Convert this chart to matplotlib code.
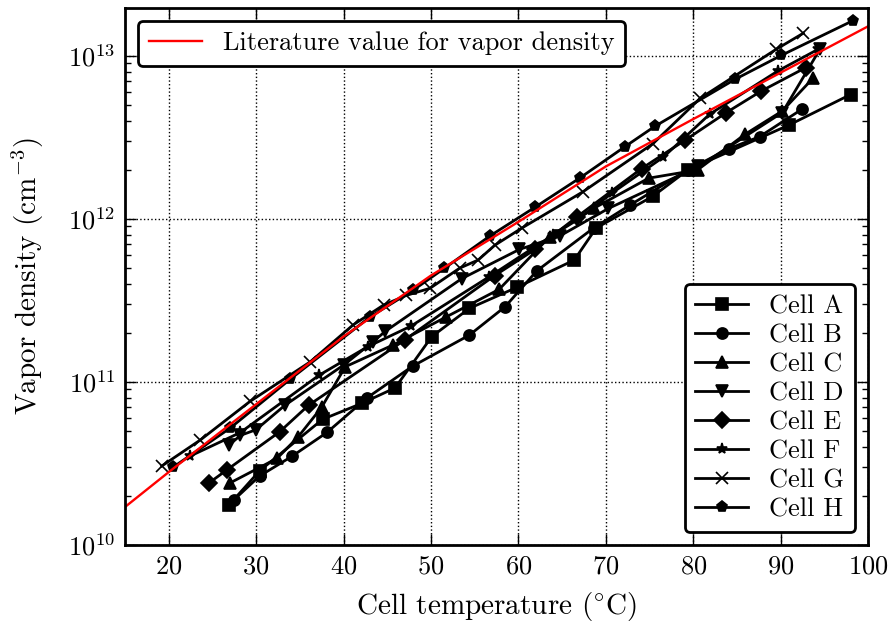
import numpy as np
import matplotlib
matplotlib.use('Agg')
import matplotlib.pyplot as plt

plt.rcParams['font.family'] = 'serif'
plt.rcParams['font.serif'] = ['cmr10']
plt.rcParams['mathtext.fontset'] = 'cm'
plt.rcParams['axes.formatter.use_mathtext'] = True
plt.rcParams['axes.unicode_minus'] = False

# literature curve
lit_t = [15, 20, 30, 40, 50, 60, 70, 80, 90, 100]
lit_n = [1.71e10, 2.8e10, 7.3e10, 1.9e11, 4.5e11, 9.6e11, 2.1e12, 4.1e12, 7.9e12, 1.52e13]

tA = [26.9, 30.4, 37.6, 42.1, 45.9, 50.1, 54.4, 59.8, 66.4, 68.9, 75.4, 79.4, 91.0, 98.0]
nA = [1.76e10, 2.85e10, 5.9e10, 7.4e10, 9.2e10, 1.9e11, 2.83e11, 3.8e11, 5.6e11, 8.8e11, 1.38e12, 2.0e12, 3.78e12, 5.8e12]

tB = [27.5, 30.4, 34.1, 38.1, 42.7, 47.9, 54.4, 58.5, 62.1, 68.6, 72.8, 79.4, 84.1, 87.6, 92.4]
nB = [1.9e10, 2.65e10, 3.5e10, 4.9e10, 8.0e10, 1.25e11, 1.94e11, 2.9e11, 4.8e11, 8.8e11, 1.22e12, 2.0e12, 2.7e12, 3.2e12, 4.7e12]

tC = [27.0, 32.4, 34.8, 37.5, 40.2, 45.7, 51.7, 57.8, 63.6, 68.6, 74.9, 80.5, 85.9, 90.2, 93.7]
nC = [2.4e10, 3.4e10, 4.6e10, 7.0e10, 1.24e11, 1.69e11, 2.5e11, 3.7e11, 7.8e11, 1.16e12, 1.78e12, 2.0e12, 3.3e12, 4.6e12, 7.3e12]

tD = [26.9, 28.2, 30.0, 33.3, 40.1, 43.4, 44.8, 53.5, 60.1, 64.8, 70.3, 80.6, 90.2, 94.5]
nD = [4.1e10, 4.7e10, 5.1e10, 7.2e10, 1.28e11, 1.77e11, 2.05e11, 4.3e11, 6.5e11, 7.9e11, 1.16e12, 2.1e12, 4.5e12, 1.1e13]

tE = [24.6, 26.7, 32.7, 36.0, 47.0, 57.3, 61.9, 66.7, 74.1, 79.1, 83.8, 87.8, 92.9]
nE = [2.4e10, 2.9e10, 4.95e10, 7.2e10, 1.81e11, 4.5e11, 6.5e11, 1.03e12, 2.04e12, 3.05e12, 4.5e12, 6.1e12, 8.5e12]

tF = [22.4, 28.2, 37.2, 42.8, 47.7, 56.6, 64.0, 66.9, 70.7, 76.6, 81.9, 89.7, 94.3]
nF = [3.5e10, 4.9e10, 1.1e11, 1.65e11, 2.2e11, 4.4e11, 8.0e11, 1.0e12, 1.44e12, 2.4e12, 4.4e12, 8.1e12, 1.1e13]

tG = [19.2, 23.6, 29.3, 36.2, 41.1, 44.6, 47.2, 49.9, 53.3, 55.4, 57.3, 60.4, 67.4, 75.4, 80.8, 89.5, 92.6]
nG = [3.05e10, 4.4e10, 7.6e10, 1.33e11, 2.24e11, 2.97e11, 3.4e11, 3.76e11, 5.0e11, 5.6e11, 6.9e11, 8.8e11, 1.47e12, 2.9e12, 5.5e12, 1.1e13, 1.38e13]

tH = [20.5, 27.0, 33.9, 43.0, 48.0, 51.5, 56.8, 61.9, 67.0, 72.2, 75.6, 84.8, 90.1, 98.3]
nH = [3.0e10, 5.2e10, 1.04e11, 2.5e11, 3.67e11, 4.97e11, 7.9e11, 1.18e12, 1.78e12, 2.78e12, 3.7e12, 7.2e12, 1.01e13, 1.65e13]

cells = [('Cell A', tA, nA, 's', 8),
         ('Cell B', tB, nB, 'o', 8),
         ('Cell C', tC, nC, '^', 8),
         ('Cell D', tD, nD, 'v', 8),
         ('Cell E', tE, nE, 'D', 8),
         ('Cell F', tF, nF, '*', 8),
         ('Cell G', tG, nG, 'x', 8),
         ('Cell H', tH, nH, 'p', 8)]

fig = plt.figure(figsize=(8.94, 6.26), dpi=100)
ax = fig.add_axes([0.1398, 0.1294, 0.8311, 0.8578])

handles = []
for name, t, n, m, ms in cells:
    h, = ax.plot(t, n, color='k', lw=2, marker=m, ms=ms, mew=1.2, label=name)
    handles.append(h)
lit, = ax.plot(lit_t, lit_n, color='r', lw=1.7, label='Literature value for vapor density')

ax.set_yscale('log')
ax.set_xlim(15, 100)
ax.set_ylim(1e10, 1.97e13)
ax.grid(True, which='major', color='k', linestyle=':', lw=1)
ax.tick_params(which='both', direction='in', top=True, right=True, labelsize=19, pad=7)
ax.tick_params(which='major', length=8, width=1)
ax.tick_params(which='minor', length=4, width=1)
for s in ax.spines.values():
    s.set_linewidth(2)
ax.set_xlabel(r'Cell temperature ($^{\circ}$C)', fontsize=21, labelpad=8)
ax.set_ylabel(r'Vapor density (cm$^{-3}$)', fontsize=21, labelpad=16)

leg1 = ax.legend(handles=[lit], loc='upper left', fontsize=19, fancybox=True,
                 framealpha=1, edgecolor='k', handlelength=2.0)
leg1.get_frame().set_linewidth(2)
ax.add_artist(leg1)
leg2 = ax.legend(handles=handles, loc='lower right', fontsize=19, fancybox=True,
                 framealpha=1, edgecolor='k', handlelength=2.0, labelspacing=0.2)
leg2.get_frame().set_linewidth(2)

fig.savefig('out.png', dpi=100)
